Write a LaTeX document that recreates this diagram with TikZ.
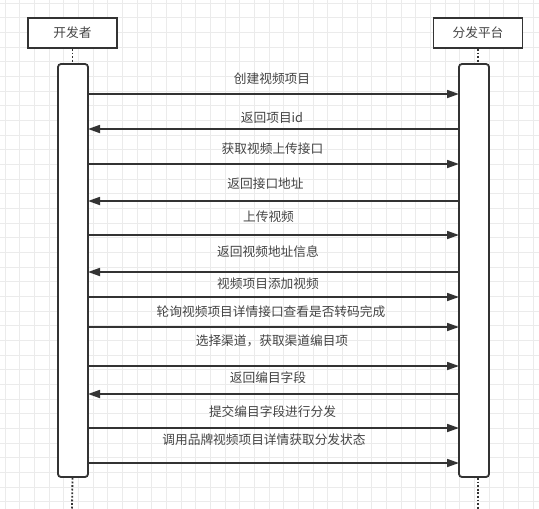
\documentclass[tikz,border=0pt]{standalone}
\usepackage{fontspec}
\setmainfont{Noto Sans CJK SC}
\usetikzlibrary{arrows.meta}
\definecolor{ink}{HTML}{333333}
\definecolor{txt}{HTML}{444444}
\definecolor{gridc}{HTML}{EBEBEB}
\tikzset{
  actor/.style={draw=ink, line width=1.8pt, fill=white, minimum width=89pt, minimum height=30pt, inner sep=0pt, font=\fontsize{12.7pt}{14pt}\selectfont, text=txt},
  bar/.style={draw=ink, line width=1.8pt, fill=white, rounded corners=3pt, minimum width=30pt, minimum height=413pt, inner sep=0pt},
  life/.style={draw=ink, line width=1.8pt, dash pattern=on 1.8pt off 1.8pt},
  msg/.style={draw=ink, line width=1.7pt, -{Triangle[length=12pt,width=8pt]}},
  lbl/.style={font=\fontsize{12.7pt}{14pt}\selectfont, text=txt, inner sep=0pt}
}
\begin{document}
\begin{tikzpicture}[x=1pt,y=-1pt]
\useasboundingbox (0,0) rectangle (539,509);
\fill[white] (0,0) rectangle (539,509);
% grid
\foreach \i in {0,...,36} {
  \draw[gridc, line width=0.8pt] ({5+14.67*\i},0) -- ({5+14.67*\i},509);
}
\foreach \i in {0,...,34} {
  \draw[gridc, line width=0.8pt] (0,{3+14.67*\i}) -- (539,{3+14.67*\i});
}
% actors
\node[actor] (dev) at (72.5,33) {开发者};
\node[actor] (plat) at (478,33) {分发平台};
% activation bars
\node[bar] (lbar) at (73,270.5) {};
\node[bar] (rbar) at (474,270.5) {};
% lifelines
\coordinate (devend) at (72,509);
\coordinate (platend) at (478,509);
\draw[life] (dev.south) -- (dev.south |- lbar.north);
\draw[life] (plat.south) -- (plat.south |- rbar.north);
\draw[life] (dev.south |- lbar.south) -- (devend);
\draw[life] (plat.south |- rbar.south) -- (platend);
% messages
\foreach \n/\y in {1/94,2/129,3/164,4/201,5/235,6/272,7/297,8/327,9/366,10/394,11/428,12/463} {
  \coordinate (L\n) at (88,\y);
  \coordinate (R\n) at (459,\y);
}
\draw[msg] (L1) -- (R1);
\draw[msg] (R2) -- (L2);
\draw[msg] (L3) -- (R3);
\draw[msg] (R4) -- (L4);
\draw[msg] (L5) -- (R5);
\draw[msg] (R6) -- (L6);
\draw[msg] (L7) -- (R7);
\draw[msg] (L8) -- (R8);
\draw[msg] (L9) -- (R9);
\draw[msg] (R10) -- (L10);
\draw[msg] (L11) -- (R11);
\draw[msg] (L12) -- (R12);
% labels
\node[lbl] (t1) at (272,79) {创建视频项目};
\node[lbl] (t2) at (272,118) {返回项目id};
\node[lbl] (t3) at (272.5,149) {获取视频上传接口};
\node[lbl] (t4) at (265.5,184) {返回接口地址};
\node[lbl] (t5) at (268.5,217) {上传视频};
\node[lbl] (t6) at (268,252) {返回视频地址信息};
\node[lbl] (t7) at (268,284) {视频项目添加视频};
\node[lbl] (t8) at (271,312) {轮询视频项目详情接口查看是否转码完成};
\node[lbl] (t9) at (272,341) {选择渠道，获取渠道编目项};
\node[lbl] (t10) at (268,378) {返回编目字段};
\node[lbl] (t11) at (272.5,412) {提交编目字段进行分发};
\node[lbl] (t12) at (264,440) {调用品牌视频项目详情获取分发状态};
\end{tikzpicture}
\end{document}
